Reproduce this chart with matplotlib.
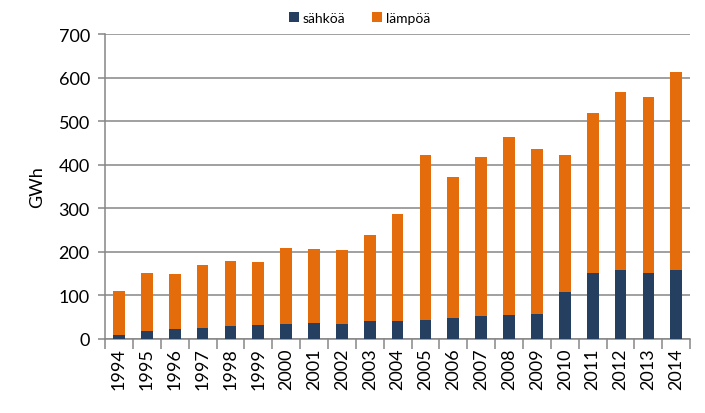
import matplotlib.pyplot as plt
import numpy as np

plt.rcParams['font.family'] = ['Lato', 'DejaVu Sans']

years = [str(y) for y in range(1994, 2015)]
sahkoa = [10, 18, 23, 25, 30, 31, 35, 37, 35, 40, 40, 43, 48, 53, 56, 58, 107, 151, 159, 151, 159]
total = [110, 152, 150, 169, 178, 177, 209, 207, 205, 238, 287, 423, 373, 419, 463, 437, 422, 518, 568, 555, 613]
lampoa = [t - s for t, s in zip(total, sahkoa)]

navy = '#243F60'
orange = '#E46C0A'
grid_c = '#868686'

fig = plt.figure(figsize=(7.05, 4.14), dpi=100)
ax = fig.add_axes([0.149, 0.179, 0.83, 0.736])

x = np.arange(len(years))
ax.bar(x, sahkoa, width=0.42, color=navy, label='sähköä', zorder=3)
ax.bar(x, lampoa, width=0.42, bottom=sahkoa, color=orange, label='lämpöä', zorder=3)

ax.set_ylim(0, 700)
ax.set_xlim(-0.5, len(years) - 0.5)
ax.set_yticks(range(0, 701, 100))
ax.yaxis.grid(True, color=grid_c, linewidth=1.1, zorder=0)
ax.tick_params(axis='y', labelsize=13, length=5, color=grid_c, width=1.1, pad=6)

ax.set_xticks(x)
ax.set_xticklabels(years, rotation=90, fontsize=13)
ax.tick_params(axis='x', which='major', length=0, pad=6)
ax.set_xticks(np.arange(-0.5, len(years), 1), minor=True)
ax.tick_params(axis='x', which='minor', length=7, color=grid_c, width=1.1)

for s in ['top', 'right']:
    ax.spines[s].set_visible(False)
for s in ['left', 'bottom']:
    ax.spines[s].set_color(grid_c)
    ax.spines[s].set_linewidth(1.1)

ax.set_ylabel('GWh', fontsize=13, labelpad=10)

fig.legend(*ax.get_legend_handles_labels(), loc='center', bbox_to_anchor=(0.51, 0.955),
           ncol=2, frameon=False, fontsize=10, handlelength=0.7, handleheight=0.7,
           columnspacing=1.9, handletextpad=0.3)

fig.savefig('out.png', dpi=100)
